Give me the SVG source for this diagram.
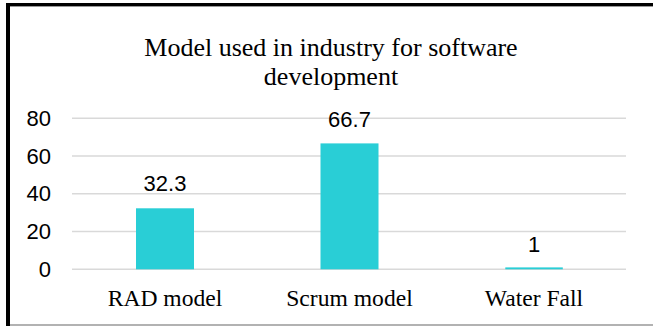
<svg xmlns="http://www.w3.org/2000/svg" width="653" height="326" viewBox="0 0 653 326">
<style>
.grid{stroke:#d9d9d9;stroke-width:1.5}
.bar{fill:#29ced6}
.ax{font-family:"Liberation Sans",Arial,sans-serif;font-size:22px;fill:#000;text-anchor:end}
.val{font-family:"Liberation Sans",Arial,sans-serif;font-size:22px;fill:#000;text-anchor:middle}
.cat{font-family:"Liberation Serif","Times New Roman",serif;font-size:23.6px;fill:#000;text-anchor:middle}
.title{font-family:"Liberation Serif","Times New Roman",serif;font-size:26px;fill:#000;text-anchor:middle}
</style>
<rect x="0" y="0" width="653" height="326" fill="#fff"/>
<g id="frame">
<rect x="6" y="3" width="647" height="3" fill="#000"/>
<line x1="10" y1="6.5" x2="653" y2="6.5" stroke="#999" stroke-width="1"/>
<rect x="6" y="3" width="4" height="323" fill="#000"/>
<line x1="10" y1="325" x2="653" y2="325" stroke="#999" stroke-width="1.5"/>
</g>
<g id="title">
<text class="title" x="331" y="56">Model used in industry for software</text>
<text class="title" x="331" y="85">development</text>
</g>
<g id="gridlines">
<line class="grid" x1="72" y1="118.3" x2="626" y2="118.3"/>
<line class="grid" x1="72" y1="156" x2="626" y2="156"/>
<line class="grid" x1="72" y1="193.7" x2="626" y2="193.7"/>
<line class="grid" x1="72" y1="231.5" x2="626" y2="231.5"/>
<line class="grid" x1="72" y1="269.3" x2="626" y2="269.3"/>
</g>
<g id="y-axis">
<text class="ax" x="51" y="126">80</text>
<text class="ax" x="51" y="163.7">60</text>
<text class="ax" x="51" y="201.4">40</text>
<text class="ax" x="51" y="239.2">20</text>
<text class="ax" x="51" y="277">0</text>
</g>
<g id="bar-rad">
<rect class="bar" x="136" y="208.3" width="58" height="61"/>
<text class="val" x="165" y="191">32.3</text>
<text class="cat" x="165" y="305.5">RAD model</text>
</g>
<g id="bar-scrum">
<rect class="bar" x="320.5" y="143.4" width="58" height="125.9"/>
<text class="val" x="349.5" y="127">66.7</text>
<text class="cat" x="349.5" y="305.5">Scrum model</text>
</g>
<g id="bar-waterfall">
<rect class="bar" x="505.3" y="267.4" width="57.5" height="1.9"/>
<text class="val" x="534" y="252">1</text>
<text class="cat" x="534" y="305.5">Water Fall</text>
</g>
</svg>
